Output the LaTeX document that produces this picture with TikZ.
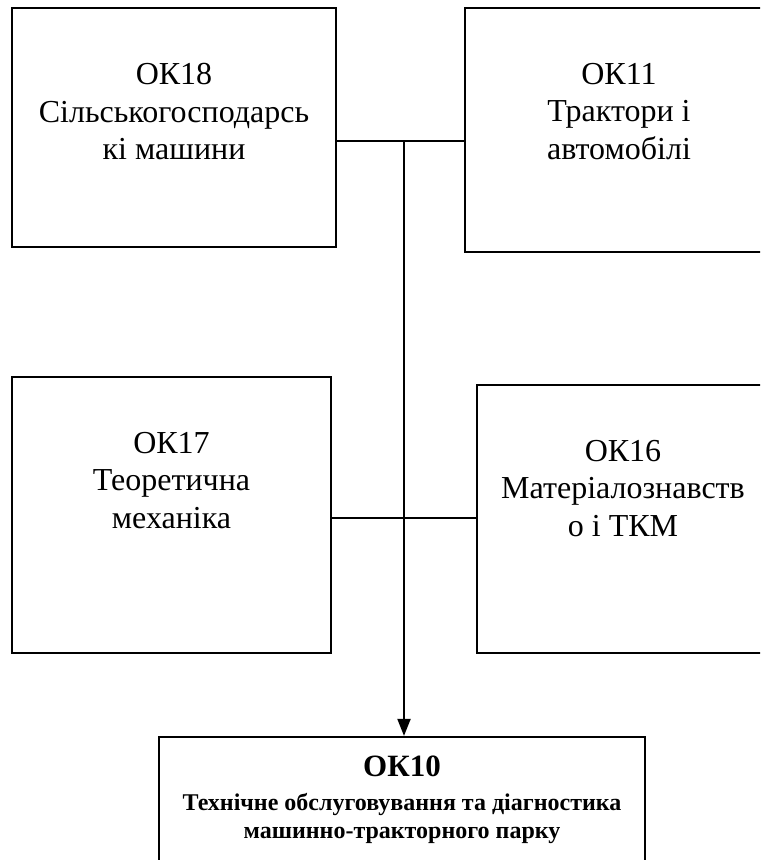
\documentclass[tikz,border=0pt]{standalone}
\usepackage{fontspec}
\setmainfont{Liberation Serif}
\usetikzlibrary{arrows.meta, positioning}

\begin{document}
\begin{tikzpicture}[x=0.5pt, y=-0.5pt, line width=1pt, box node/.style={draw, rectangle, inner sep=0pt, line width=1.1pt}, name node/.style={align=center, inner sep=0pt, anchor=north, font=\fontsize{16}{18.75}\selectfont}, main node/.style={align=center, inner sep=0pt, anchor=north, font=\fontsize{12}{14}\selectfont\bfseries}]
\useasboundingbox (0,0) rectangle (760,860);
\clip (0,0) rectangle (760,860);
\foreach \s/\x/\y/\w/\h in {ok18/174/127.5/162/119.5, ok11/619/130/154/122, ok17/171.5/515/159.5/138, ok16/623/519/146/134, ok10/402/817/243/80}{
    \node[box node, minimum width=\w pt, minimum height=\h pt] (\s) at (\x,\y) {};}
\node[name node] (t18) at ([yshift=-27.7pt]ok18.north) {ОК18\\Сільськогосподарсь\\кі машини};
\node[name node] (t11) at ([yshift=-27.7pt]ok11.north) {ОК11\\Трактори і\\автомобілі};
\node[name node] (t17) at ([yshift=-27.7pt]ok17.north) {ОК17\\Теоретична\\механіка};
\node[name node] (t16) at ([yshift=-27.7pt]ok16.north) {ОК16\\Матеріалознавств\\о і ТКМ};
\node[main node] (t10) at ([yshift=-9.5pt]ok10.north) {{\fontsize{15.5}{17}\selectfont ОК10}\\[3pt]Технічне обслуговування та діагностика\\машинно-тракторного парку};
\coordinate (j1) at (404,141);
\coordinate (j2) at (404,518);
\draw (ok18.east |- j1) -- (ok11.west |- j1);
\draw (ok17.east |- j2) -- (ok16.west |- j2);
\draw[-{Triangle[length=8.5pt, width=6.5pt]}] (j1) -- (j1 |- ok10.north);
\end{tikzpicture}
\end{document}
